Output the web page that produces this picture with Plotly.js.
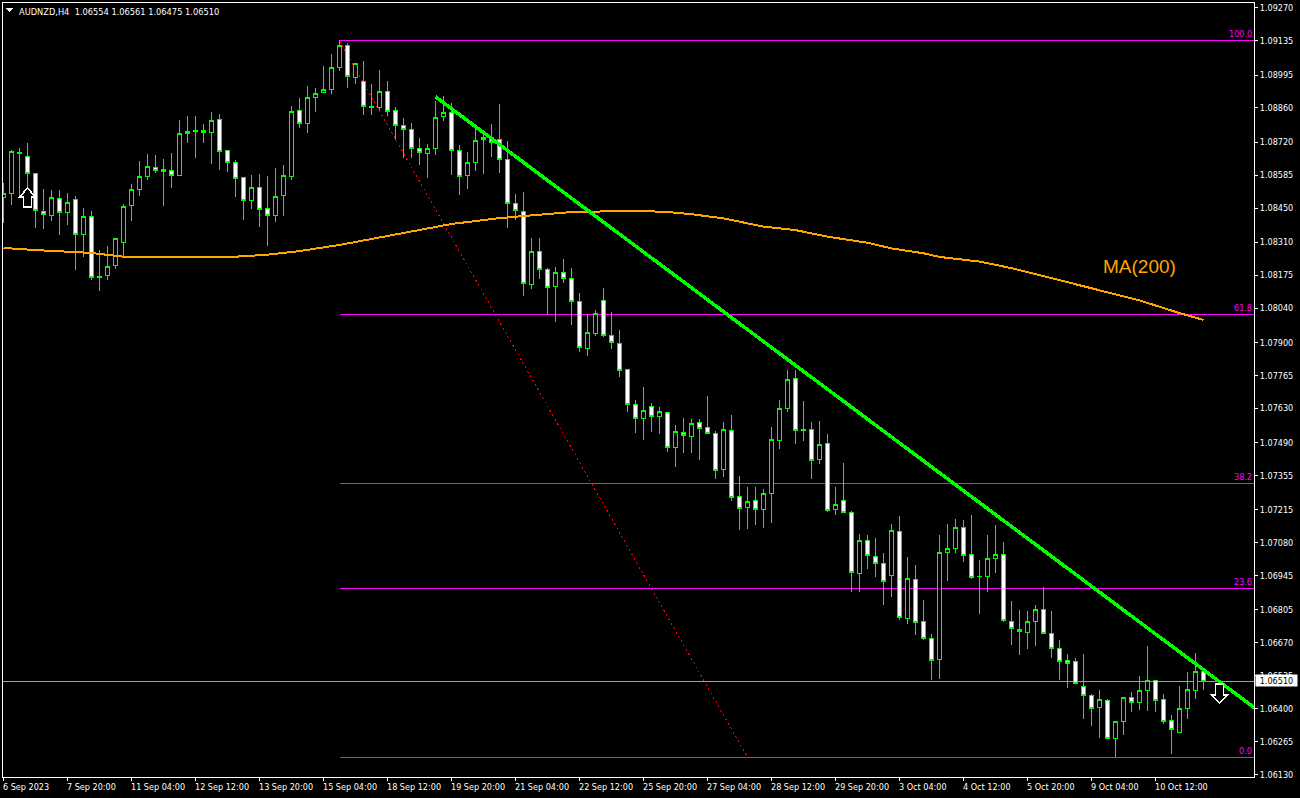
<!DOCTYPE html>
<html><head><meta charset="utf-8">
<script src="https://cdn.plot.ly/plotly-3.0.1.min.js"></script>
<style>html,body{margin:0;padding:0;background:#000;overflow:hidden}#chart{width:1300px;height:798px}
#chart svg path{shape-rendering:crispEdges}</style>
</head><body><div id="chart"></div>
<script>
const opens=[1.08494,1.08510,1.08677,1.08662,1.08592,1.08437,1.08419,1.08488,1.08431,1.08486,1.08341,1.08416,1.08169,1.08173,1.08214,1.08310,1.08460,1.08525,1.08579,1.08615,1.08609,1.08603,1.08584,1.08755,1.08767,1.08768,1.08760,1.08813,1.08686,1.08637,1.08576,1.08482,1.08535,1.08449,1.08420,1.08502,1.08580,1.08850,1.08797,1.08903,1.08924,1.08936,1.09026,1.09116,1.08985,1.08969,1.08866,1.08862,1.08928,1.08850,1.08789,1.08772,1.08694,1.08674,1.08694,1.08825,1.08842,1.08686,1.08584,1.08637,1.08731,1.08739,1.08731,1.08649,1.08469,1.08436,1.08136,1.08273,1.08199,1.08129,1.08187,1.08162,1.08068,1.07875,1.07937,1.08072,1.07929,1.07897,1.07790,1.07647,1.07588,1.07639,1.07598,1.07614,1.07471,1.07532,1.07514,1.07573,1.07553,1.07528,1.07381,1.07540,1.07270,1.07225,1.07254,1.07217,1.07282,1.07499,1.07630,1.07753,1.07544,1.07544,1.07422,1.07487,1.07217,1.07254,1.07204,1.06953,1.07089,1.07024,1.06995,1.06945,1.07126,1.06770,1.06930,1.06758,1.06688,1.06602,1.07040,1.07057,1.07143,1.07032,1.06943,1.06942,1.07016,1.07032,1.06758,1.06725,1.06713,1.06756,1.06807,1.06709,1.06647,1.06598,1.06594,1.06492,1.06455,1.06406,1.06434,1.06279,1.06348,1.06447,1.06426,1.06475,1.06516,1.06438,1.06352,1.06303,1.06402,1.06475,1.06554];
const highs=[1.08551,1.08688,1.08696,1.08715,1.08592,1.08527,1.08524,1.08524,1.08512,1.08499,1.08449,1.08438,1.08278,1.08295,1.08326,1.08467,1.08549,1.08641,1.08671,1.08667,1.08651,1.08674,1.08809,1.08827,1.08827,1.08794,1.08842,1.08834,1.08686,1.08647,1.08576,1.08585,1.08589,1.08581,1.08614,1.08626,1.08868,1.08901,1.08950,1.08940,1.09032,1.09080,1.09138,1.09128,1.09042,1.09051,1.08957,1.09014,1.08970,1.08866,1.08817,1.08797,1.08739,1.08711,1.08887,1.08909,1.08879,1.08707,1.08678,1.08776,1.08754,1.08794,1.08875,1.08723,1.08507,1.08514,1.08326,1.08326,1.08203,1.08207,1.08241,1.08204,1.08101,1.08015,1.08031,1.08121,1.08023,1.07951,1.07790,1.07663,1.07716,1.07651,1.07636,1.07614,1.07562,1.07590,1.07585,1.07585,1.07680,1.07536,1.07573,1.07602,1.07352,1.07307,1.07307,1.07299,1.07553,1.07663,1.07786,1.07786,1.07659,1.07573,1.07577,1.07524,1.07307,1.07405,1.07208,1.07114,1.07110,1.07098,1.07036,1.07155,1.07188,1.07020,1.06987,1.06844,1.06706,1.07110,1.07155,1.07175,1.07171,1.07192,1.07007,1.07110,1.07151,1.07081,1.06840,1.06803,1.06799,1.06823,1.06900,1.06800,1.06681,1.06624,1.06606,1.06624,1.06459,1.06477,1.06438,1.06348,1.06448,1.06468,1.06533,1.06655,1.06516,1.06459,1.06373,1.06492,1.06549,1.06627,1.06561];
const lows=[1.08390,1.08464,1.08497,1.08531,1.08370,1.08364,1.08397,1.08340,1.08381,1.08198,1.08251,1.08155,1.08112,1.08155,1.08202,1.08251,1.08398,1.08501,1.08565,1.08595,1.08460,1.08534,1.08584,1.08716,1.08655,1.08716,1.08632,1.08606,1.08598,1.08497,1.08401,1.08446,1.08374,1.08296,1.08394,1.08419,1.08565,1.08779,1.08759,1.08845,1.08920,1.08917,1.09011,1.08943,1.08959,1.08832,1.08832,1.08851,1.08828,1.08730,1.08656,1.08656,1.08628,1.08574,1.08668,1.08808,1.08587,1.08505,1.08529,1.08603,1.08591,1.08660,1.08595,1.08370,1.08402,1.08091,1.08120,1.08161,1.08013,1.07985,1.08144,1.07972,1.07862,1.07845,1.07927,1.07923,1.07874,1.07759,1.07615,1.07529,1.07501,1.07534,1.07525,1.07452,1.07390,1.07448,1.07448,1.07419,1.07528,1.07341,1.07349,1.07251,1.07132,1.07136,1.07153,1.07140,1.07161,1.07464,1.07615,1.07484,1.07497,1.07341,1.07403,1.07207,1.07194,1.07205,1.06879,1.06879,1.06973,1.06941,1.06826,1.06859,1.06764,1.06748,1.06702,1.06683,1.06519,1.06523,1.06924,1.07039,1.07002,1.06932,1.06789,1.06879,1.06957,1.06756,1.06662,1.06621,1.06646,1.06658,1.06705,1.06609,1.06518,1.06485,1.06504,1.06358,1.06329,1.06280,1.06279,1.06201,1.06292,1.06387,1.06395,1.06391,1.06387,1.06336,1.06215,1.06299,1.06358,1.06438,1.06475];
const closes=[1.08510,1.08682,1.08674,1.08592,1.08439,1.08423,1.08494,1.08431,1.08473,1.08341,1.08416,1.08166,1.08166,1.08211,1.08326,1.08457,1.08527,1.08580,1.08621,1.08604,1.08600,1.08584,1.08756,1.08764,1.08764,1.08760,1.08809,1.08682,1.08637,1.08572,1.08482,1.08535,1.08445,1.08420,1.08498,1.08584,1.08846,1.08797,1.08903,1.08920,1.08936,1.09026,1.09116,1.08989,1.09042,1.08866,1.08862,1.08928,1.08846,1.08787,1.08772,1.08694,1.08678,1.08694,1.08821,1.08842,1.08686,1.08580,1.08637,1.08727,1.08739,1.08719,1.08649,1.08469,1.08441,1.08142,1.08273,1.08199,1.08125,1.08187,1.08162,1.08068,1.07880,1.07941,1.08019,1.07929,1.07900,1.07785,1.07647,1.07588,1.07622,1.07598,1.07618,1.07471,1.07536,1.07520,1.07569,1.07549,1.07528,1.07377,1.07544,1.07266,1.07221,1.07250,1.07217,1.07282,1.07504,1.07630,1.07749,1.07540,1.07540,1.07418,1.07483,1.07213,1.07237,1.07205,1.06958,1.07089,1.07028,1.06995,1.06921,1.07130,1.06774,1.06934,1.06754,1.06687,1.06598,1.07040,1.07057,1.07143,1.07028,1.06938,1.06941,1.07016,1.07032,1.06762,1.06729,1.06717,1.06758,1.06807,1.06709,1.06647,1.06594,1.06586,1.06504,1.06455,1.06402,1.06438,1.06279,1.06348,1.06447,1.06426,1.06475,1.06516,1.06434,1.06348,1.06316,1.06402,1.06479,1.06553,1.06510];

const maBars=[0,4,9,11,15,29,33,37,42,50,56,62,68,71,78,80,83,86,90,93,95,99,103,108,111,115,117,122,126,131,136,139,142,147,150];
const maValues=[1.08287,1.08278,1.08270,1.08266,1.08251,1.08251,1.08259,1.08274,1.08299,1.08347,1.08385,1.08409,1.08427,1.08434,1.08438,1.08438,1.08434,1.08425,1.08408,1.08389,1.08374,1.08360,1.08333,1.08308,1.08285,1.08265,1.08250,1.08231,1.08204,1.08163,1.08123,1.08096,1.08072,1.08020,1.07992];

const trendBars=[54,157];
const trendValues=[1.08906,1.06388];

const fibLabels=["100.0","61.8","38.2","23.6","0.0"];
const fibValues=[1.09135,1.08014,1.07322,1.06893,1.06201];
const fibStartBar=42;
const fibEndBar=93;

const lastPrice=1.06510;
const headerText="AUDNZD,H4  1.06554 1.06561 1.06475 1.06510";
const maLabel="MA(200)";

const xTickBars=[0,8,16,24,32,40,48,56,64,72,80,88,96,104,112,120,128,136,144];
const xTickLabels=["6 Sep 2023","7 Sep 20:00","11 Sep 04:00","12 Sep 12:00","13 Sep 20:00","15 Sep 04:00","18 Sep 12:00","19 Sep 20:00","21 Sep 04:00","22 Sep 12:00","25 Sep 20:00","27 Sep 04:00","28 Sep 12:00","29 Sep 20:00","3 Oct 04:00","4 Oct 12:00","5 Oct 20:00","9 Oct 04:00","10 Oct 12:00"];
const yTickLabels=["1.09270","1.09135","1.08995","1.08860","1.08720","1.08585","1.08450","1.08310","1.08175","1.08040","1.07900","1.07765","1.07630","1.07490","1.07355","1.07215","1.07080","1.06945","1.06805","1.06670","1.06535","1.06400","1.06265","1.06130"];

const bars=opens.map((_,i)=>i);
const FONT='"DejaVu Sans Condensed", "DejaVu Sans", "Liberation Sans", sans-serif';
const MAFONT='"Liberation Sans", Arial, sans-serif';
const xMax=156.3125;

const candle={type:'candlestick',x:bars,open:opens,high:highs,low:lows,close:closes,
  increasing:{line:{color:'#00ff00',width:1},fillcolor:'#000000'},
  decreasing:{line:{color:'#00ff00',width:1},fillcolor:'#ffffff'},
  whiskerwidth:0,hoverinfo:'skip',showlegend:false};
const ma={type:'scatter',mode:'lines',x:maBars,y:maValues,line:{color:'#ffa500',width:2},hoverinfo:'skip',showlegend:false};
const trend={type:'scatter',mode:'lines',x:trendBars,y:trendValues,line:{color:'#00ff00',width:3.5},hoverinfo:'skip',showlegend:false};

const shapes=[];
fibValues.forEach(v=>shapes.push({type:'line',layer:'below',xref:'x',yref:'y',x0:fibStartBar,x1:xMax,y0:v,y1:v,line:{color:'#ff00ff',width:1}}));
shapes.push({type:'line',layer:'below',xref:'x',yref:'y',x0:-0.0625,x1:xMax,y0:lastPrice,y1:lastPrice,line:{color:'#a0a0a0',width:1}});
shapes.push({type:'line',layer:'below',xref:'x',yref:'y',x0:fibStartBar,x1:fibEndBar,y0:fibValues[0],y1:fibValues[4],line:{color:'#ff0000',width:1,dash:'2px,3px'}});
// buy / sell arrows, anchored on the price scale and sized in pixels
const arrowStyle={type:'path',layer:'above',xref:'x',yref:'y',xsizemode:'pixel',ysizemode:'pixel',fillcolor:'#000000',line:{color:'#ffffff',width:1.5}};
shapes.push(Object.assign({},arrowStyle,{xanchor:3,yanchor:1.08532,path:'M0,0 L8,-9 L4,-9 L4,-19 L-4,-19 L-4,-9 L-8,-9 Z'}));
shapes.push(Object.assign({},arrowStyle,{xanchor:152,yanchor:1.06423,path:'M0,0 L8,8 L4,8 L4,19 L-4,19 L-4,8 L-8,8 Z'}));
// header triangle
shapes.push({type:'path',xref:'paper',yref:'paper',xsizemode:'pixel',ysizemode:'pixel',xanchor:0,yanchor:1,path:'M3,-5 L10,-5 L6.5,-9 Z',fillcolor:'#ffffff',line:{width:0}});

const annotations=[];
xTickLabels.forEach((t,k)=>annotations.push({xref:'x',yref:'paper',x:xTickBars[k],y:0,xanchor:'left',yanchor:'top',yshift:-3,xshift:-3,text:t,showarrow:false,font:{family:FONT,size:9,color:'#ffffff'}}));
fibLabels.forEach((t,k)=>annotations.push({xref:'paper',yref:'y',x:1,y:fibValues[k],xanchor:'right',yanchor:'bottom',yshift:-0.5,text:t,showarrow:false,font:{family:FONT,size:9,color:'#ff00ff'}}));
annotations.push({xref:'paper',yref:'paper',x:0,y:1,xanchor:'left',yanchor:'top',xshift:14,yshift:-1,text:headerText.replace(/  /,'&nbsp;&nbsp;'),showarrow:false,font:{family:FONT,size:9.2,color:'#ffffff'}});
annotations.push({xref:'x',yref:'y',x:142,y:1.08209,xanchor:'center',yanchor:'middle',text:maLabel,showarrow:false,font:{family:MAFONT,size:19,color:'#ffa500'}});
annotations.push({xref:'paper',yref:'y',x:1,y:lastPrice,xanchor:'left',yanchor:'middle',xshift:1,yshift:1,width:41,height:11,text:lastPrice.toFixed(5),showarrow:false,bgcolor:'#ffffff',borderpad:0,font:{family:FONT,size:9,color:'#000000'}});

const layout={width:1300,height:798,autosize:false,paper_bgcolor:'#000000',plot_bgcolor:'#000000',
  margin:{l:3,r:46,t:3,b:21,pad:0},showlegend:false,dragmode:false,boxgap:0.5,boxgroupgap:0,boxmode:'overlay',
  xaxis:{type:'linear',range:[-0.0625,xMax],showgrid:false,zeroline:false,showline:true,mirror:true,linecolor:'#ffffff',linewidth:1,
    rangeslider:{visible:false},ticks:'outside',ticklen:3,tickcolor:'#ffffff',tickmode:'array',tickvals:xTickBars,ticktext:xTickBars.map(()=>''),showticklabels:false},
  yaxis:{type:'linear',side:'right',range:[1.0612,1.0929],showgrid:false,zeroline:false,showline:true,mirror:true,linecolor:'#ffffff',linewidth:1,
    ticks:'outside',ticklen:3,tickcolor:'#ffffff',tickmode:'array',tickvals:yTickLabels.map(Number),ticktext:yTickLabels,tickfont:{family:FONT,size:9,color:'#ffffff'}},
  shapes:shapes,annotations:annotations};
Plotly.newPlot('chart',[candle,ma,trend],layout,{displayModeBar:false,staticPlot:true});
</script></body></html>
